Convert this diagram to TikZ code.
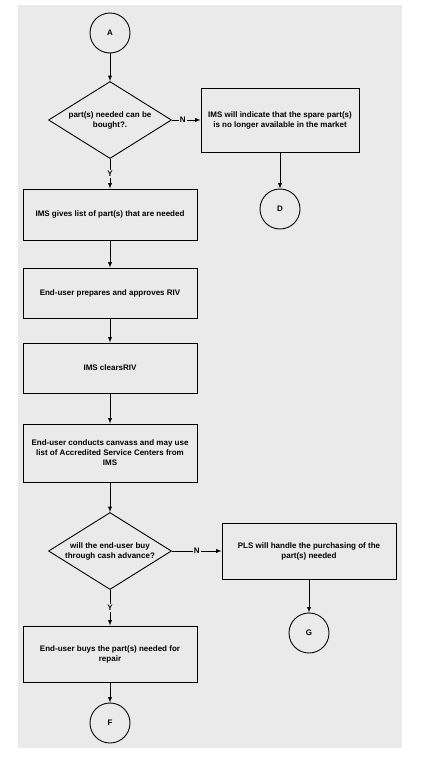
\documentclass[tikz,border=0pt]{standalone}
\usepackage{fontspec}
\setmainfont{Liberation Sans}
\usepackage{xcolor}
\definecolor{myscangray}{RGB}{234,234,234}
\usetikzlibrary{shapes.geometric,arrows,positioning,calc}
\tikzset{
    connector/.style={
        draw, circle, minimum size=40pt,
        inner sep=0pt, text=black,
        font=\bfseries\fontsize{8}{9}\selectfont
    }
}

\begin{document}
\begin{tikzpicture}[
      x=1pt, y=-1pt,
      line width=0.9pt,
  >=latex,
  mybox/.style={
    draw,
    rectangle,
    minimum width=174pt,
    minimum height=#1,
    align=center,
    font=\bfseries\fontsize{8}{10}\selectfont
    },
  mydiamond/.style={
    draw,
    diamond,
    aspect=1.6,
    inner sep=0pt,
    minimum width=123pt,
    minimum height=77pt,
    align=center,
    font=\bfseries\fontsize{8}{10}\selectfont
    },
  yn/.style={
    fill=myscangray,
    inner sep=1pt,
    font=\bfseries\fontsize{8}{9}\selectfont
    }
      ]

\useasboundingbox (0,0) rectangle (430,766);
\fill[myscangray] (18,5) rectangle (402,748);

% left column
\node[connector] (A) at (110,33) {A};
\node[mydiamond] (buy) at (110,120) {part(s) needed can be\\bought?.};
\node[mybox=51pt] (list) at (110,214.5) {IMS gives list of part(s) that are needed};
\node[mybox=50pt] (riv) at (110,293) {End-user prepares and approves RIV};
\node[mybox=50pt] (clears) at (110,368) {IMS clearsRIV};
\node[mybox=58pt] (canvass) at (110,453) {End-user conducts canvass and may use\\list of Accredited Service Centers from\\IMS};
\node[mydiamond] (cash) at (110,551) {will the end-user buy\\through cash advance?};
\node[mybox=56pt] (repair) at (110,654) {End-user buys the part(s) needed for\\repair};
\node[connector] (F) at (110,723) {F};

% right column
\node[mybox=64pt, minimum width=158pt] (nolonger) at (280,120) {IMS will indicate that the spare part(s)\\is no longer available in the market};
\node[connector] (D) at (280,209) {D};
\node[mybox=56pt] (pls) at (309,551) {PLS will handle the purchasing of the\\part(s) needed};
\node[connector] (G) at (309,633) {G};

\draw[->] (A) -- (buy);
\draw[->] (buy) -- node[yn, pos=0.38] {N} (nolonger);
\draw[->] (buy) -- node[yn] {Y} (list);
\foreach \From/\To in {list/riv, riv/clears, clears/canvass, canvass/cash}
  \draw[->] (\From) -- (\To);
\draw[->] (cash) -- node[yn, pos=0.5] {N} (pls);
\draw[->] (cash) -- node[yn] {Y} (repair);
\draw[->] (repair) -- (F);
\draw[->] (nolonger) -- (D);
\draw[->] (pls) -- (G);

\end{tikzpicture}
\end{document}
